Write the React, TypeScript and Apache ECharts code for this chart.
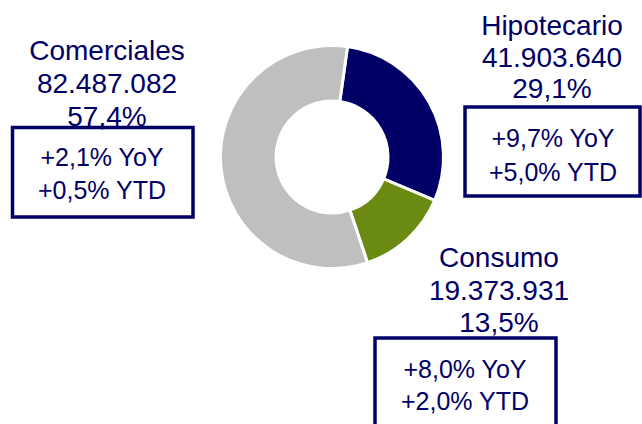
import React, { useEffect, useRef } from "react";
import * as echarts from "echarts";

const categories = ["Hipotecario", "Consumo", "Comerciales"];
const balances = [41903640, 19373931, 82487082];
const shares = [29.1, 13.5, 57.4];
const yoyGrowth = [9.7, 8.0, 2.1];
const ytdGrowth = [5.0, 2.0, 0.5];
const sliceColors = ["#000066", "#6B8A12", "#BFBFBF"];

const TEXT_COLOR = "#000066";
const FONT = "Liberation Sans, Arial, sans-serif";

// layout (positions only)
const layout = [
  { hx: 552, hy: [25.5, 57, 88.5], box: [465, 107, 175, 89], bx: 553, by: [138, 171.5] },
  { hx: 499, hy: [257.5, 290, 322.5], box: [375, 338, 181, 110], bx: 465, by: [368.5, 400.5] },
  { hx: 107, hy: [50, 83, 116.5], box: [12.5, 127.5, 180.5, 89.5], bx: 102, by: [156.5, 190] },
];

const fmtInt = (n: number) => String(n).replace(/\B(?=(\d{3})+(?!\d))/g, ".");
const fmtPct = (v: number) => v.toFixed(1).replace(".", ",") + "%";
const fmtSigned = (v: number) => (v >= 0 ? "+" : "") + fmtPct(v);

export default function App() {
  const ref = useRef<HTMLDivElement>(null);
  useEffect(() => {
    if (!ref.current) return;
    const chart = echarts.init(ref.current, undefined, { renderer: "svg" });
    const graphics: any[] = [];
    categories.forEach((name, i) => {
      const L = layout[i];
      const headerLines = [name, fmtInt(balances[i]), fmtPct(shares[i])];
      headerLines.forEach((t, j) => {
        graphics.push({
          type: "text",
          z: 10,
          style: {
            text: t,
            x: L.hx,
            y: L.hy[j],
            font: `28px ${FONT}`,
            fill: TEXT_COLOR,
            textAlign: "center",
            textVerticalAlign: "middle",
          },
        });
      });
      graphics.push({
        type: "rect",
        z: 9,
        shape: { x: L.box[0], y: L.box[1], width: L.box[2], height: L.box[3] },
        style: { fill: "none", stroke: TEXT_COLOR, lineWidth: 3.5 },
      });
      const boxLines = [fmtSigned(yoyGrowth[i]) + " YoY", fmtSigned(ytdGrowth[i]) + " YTD"];
      boxLines.forEach((t, j) => {
        graphics.push({
          type: "text",
          z: 10,
          style: {
            text: t,
            x: L.bx,
            y: L.by[j],
            font: `25px ${FONT}`,
            fill: TEXT_COLOR,
            textAlign: "center",
            textVerticalAlign: "middle",
          },
        });
      });
    });

    chart.setOption({
      animation: false,
      backgroundColor: "#ffffff",
      series: [
        {
          type: "pie",
          center: [332, 157],
          radius: [56, 111.5],
          startAngle: 82,
          clockwise: true,
          label: { show: false },
          labelLine: { show: false },
          emphasis: { disabled: true },
          itemStyle: { borderColor: "#ffffff", borderWidth: 3 },
          data: categories.map((name, i) => ({
            name,
            value: balances[i],
            itemStyle: { color: sliceColors[i] },
          })),
        },
      ],
      graphic: graphics,
    });
    return () => chart.dispose();
  }, []);
  return (
    <div
      ref={ref}
      style={{ position: "fixed", left: 0, top: 0, width: 642, height: 424 }}
    />
  );
}
